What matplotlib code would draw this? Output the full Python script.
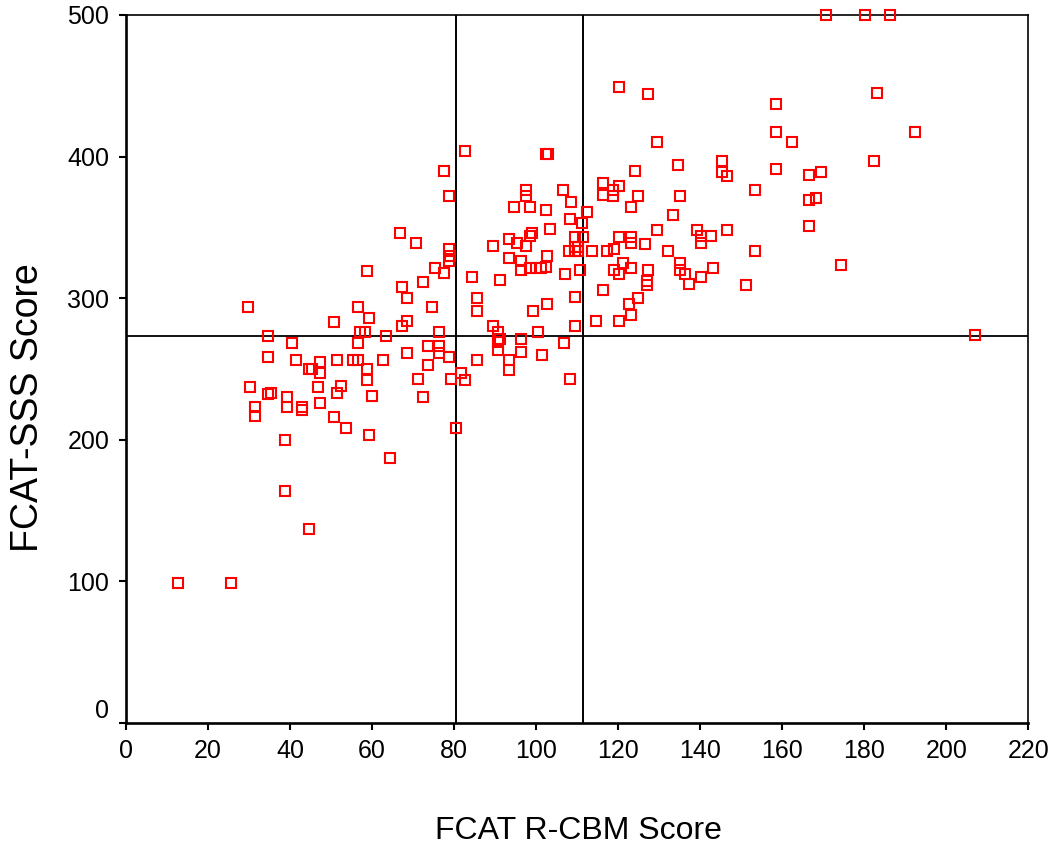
"""
FCAT R-CBM vs FCAT-SSS scatter
"""

import matplotlib
matplotlib.use('Agg')
import matplotlib.pyplot as plt

plt.rcParams['font.family'] = ['Liberation Sans', 'DejaVu Sans']

# R-CBM scores (x) and SSS scores (y)
rcbm = [
    12.6, 25.6, 29.7, 30.3, 31.4, 31.4, 34.7, 34.7, 34.7, 35.3,
    38.8, 38.8, 39.3, 39.3, 40.4, 41.5, 42.8, 42.8, 44.5, 44.5,
    45.3, 46.8, 47.4, 47.4, 47.4, 50.7, 50.8, 51.4, 51.4, 52.4,
    53.6, 55.3, 56.5, 56.5, 56.5, 57.0, 58.2, 58.7, 58.8, 58.8,
    59.2, 59.3, 59.9, 62.7, 63.4, 64.4, 66.8, 67.3, 67.3, 68.5,
    68.5, 68.5, 70.8, 71.2, 72.4, 72.4, 73.6, 73.6, 74.7, 75.3,
    76.4, 76.4, 76.4, 77.6, 77.6, 78.7, 78.7, 79.1, 78.7, 78.7,
    79.3, 80.4, 81.6, 82.7, 82.6, 84.4, 85.6, 85.6, 85.6, 89.5,
    89.5, 90.7, 91.1, 90.7, 90.7, 91.3, 93.5, 93.5, 93.5, 93.5,
    94.6, 95.4, 96.4, 96.4, 96.4, 96.4, 97.6, 97.6, 97.6, 98.6,
    98.6, 99.0, 98.6, 99.2, 100.0, 100.4, 101.2, 101.5, 102.3, 102.5,
    102.5, 103.0, 102.6, 102.6, 103.3, 106.6, 106.7, 107.1, 108.4, 108.3,
    108.3, 108.1, 109.4, 109.5, 109.4, 109.5, 109.5, 110.2, 110.3, 110.6,
    111.2, 111.4, 112.3, 113.6, 114.6, 116.3, 116.3, 116.4, 117.2, 118.7,
    118.7, 119.1, 119.1, 120.3, 120.3, 120.3, 120.3, 120.3, 121.1, 122.6,
    123.1, 123.1, 123.1, 123.1, 123.1, 124.2, 124.8, 124.8, 126.6, 127.2,
    127.2, 127.0, 127.0, 129.5, 129.5, 132.2, 133.4, 134.5, 135.1, 135.1,
    135.1, 136.3, 137.3, 139.2, 140.3, 140.3, 140.3, 142.6, 143.1, 145.3,
    145.3, 146.5, 146.5, 151.1, 153.4, 153.4, 158.6, 158.6, 158.6, 162.5,
    166.5, 166.5, 166.5, 168.2, 169.4, 170.6, 174.3, 180.2, 182.5, 183.0,
    186.4, 192.3, 207.1,
]
sss = [
    99, 99, 294, 237, 223, 217, 273, 258, 232, 233,
    200, 164, 230, 223, 268, 256, 223, 221, 137, 250,
    250, 237, 255, 247, 226, 283, 216, 256, 233, 238,
    208, 256, 256, 294, 268, 276, 276, 319, 250, 242,
    203, 286, 231, 256, 273, 187, 346, 308, 280, 300,
    284, 261, 339, 243, 311, 230, 266, 253, 294, 321,
    276, 266, 261, 390, 318, 372, 335, 330, 326, 258,
    243, 208, 247, 242, 404, 315, 300, 291, 256, 337,
    280, 276, 271, 269, 263, 313, 342, 328, 256, 249,
    364, 339, 326, 320, 271, 262, 376, 372, 337, 364,
    344, 346, 321, 291, 321, 276, 321, 260, 322, 362,
    402, 402, 330, 296, 349, 376, 268, 317, 368, 356,
    243, 333, 343, 336, 333, 301, 280, 333, 336, 320,
    353, 343, 361, 333, 284, 381, 373, 306, 333, 376,
    372, 335, 320, 449, 379, 343, 317, 284, 325, 296,
    364, 343, 339, 321, 288, 390, 372, 300, 338, 444,
    320, 312, 309, 410, 348, 333, 359, 394, 372, 325,
    320, 317, 310, 348, 344, 339, 315, 344, 321, 397,
    389, 386, 348, 309, 376, 333, 437, 417, 391, 410,
    387, 369, 351, 371, 389, 500, 323, 500, 397, 445,
    500, 417, 274,
]

# reference lines
x_cuts = [80.5, 111.4]
y_cut = 273

x_ticks = list(range(0, 221, 20))
y_ticks = list(range(0, 501, 100))


def main():
    fig = plt.figure(figsize=(10.58, 8.5), dpi=100)
    ax = fig.add_axes([0.1191, 0.1498, 0.8528, 0.8326])

    ax.plot(rcbm, sss, linestyle='none', marker='s', markersize=6.6,
            markerfacecolor='none', markeredgecolor='#ff0000',
            markeredgewidth=1.5, clip_on=False, zorder=3)

    for xc in x_cuts:
        ax.axvline(xc, color='black', linewidth=1.4, zorder=2)
    ax.axhline(y_cut, color='black', linewidth=1.3, zorder=2)

    ax.set_xlim(0, 220)
    ax.set_ylim(0, 500)
    ax.set_xticks(x_ticks)
    ax.set_yticks(y_ticks)
    # the 0 label on y sits a little above the axis, drawn by hand
    ax.set_yticklabels([''] + [str(v) for v in y_ticks[1:]])
    ax.annotate('0', xy=(0, 0), xycoords=('axes fraction', 'data'),
                xytext=(-12, 8.5), textcoords='offset points',
                ha='right', va='center', fontsize=18)

    ax.tick_params(axis='both', direction='out', length=5, width=1.5,
                   labelsize=18, pad=7, color='black')

    for side in ['left', 'bottom']:
        ax.spines[side].set_linewidth(1.9)
    for side in ['top', 'right']:
        ax.spines[side].set_linewidth(1.2)

    # axis titles placed in figure coords
    fig.text(0.5468, 0.022, 'FCAT R-CBM Score', fontsize=23,
             ha='center', va='center')
    fig.text(0.026, 0.5206, 'FCAT-SSS Score', fontsize=27,
             rotation=90, ha='center', va='center')

    fig.savefig('out.png', dpi=100)


if __name__ == "__main__":
    main()
